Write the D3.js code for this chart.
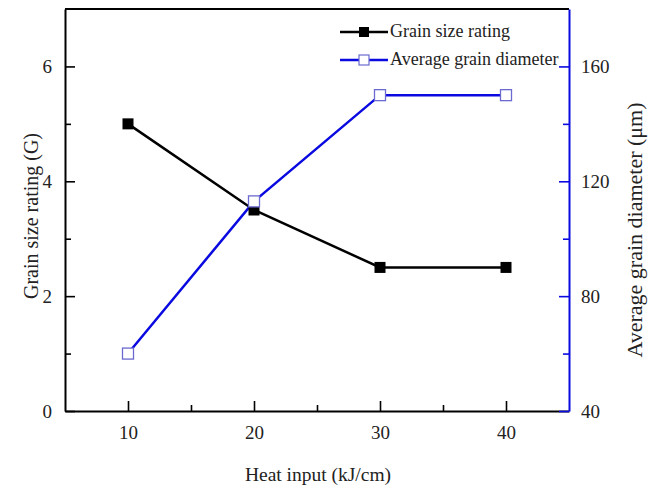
<!DOCTYPE html>
<meta charset="utf-8">
<style>
    body { margin: 0; background: white; }
    text { font-family: "Liberation Serif", "DejaVu Serif", serif; fill: #222; }
</style>
<div id="chart"></div>
<script src="https://d3js.org/d3.v7.min.js"></script>
<script>
    // data
    var heatInput = [10, 20, 30, 40];
    var grainRating = [5, 3.5, 2.5, 2.5];
    var grainDiameter = [60, 113, 150, 150];
    var xTicks = [10, 20, 30, 40];
    var leftTicks = [0, 2, 4, 6];
    var rightTicks = [40, 80, 120, 160];

    var margin = {top: 9, right: 86, bottom: 77, left: 65},
        width = 655 - margin.left - margin.right,
        height = 488 - margin.top - margin.bottom;

    var svg = d3.select("#chart").append("svg")
        .attr("width", 655)
        .attr("height", 488)
        .append("g")
        .attr("transform", "translate(" + margin.left + "," + margin.top + ")");

    var x = d3.scaleLinear().domain([5, 45]).range([0, width]);
    var yL = d3.scaleLinear().domain([0, 7]).range([height, 0]);
    var yR = d3.scaleLinear().domain([40, 180]).range([height, 0]);

    var blue = "#0a0ae0";

    // top frame
    svg.append("line")
        .attr("x1", 0).attr("x2", width)
        .attr("y1", 0).attr("y2", 0)
        .attr("stroke", "black").attr("stroke-width", 2);

    function styleAxis(g, color, majors, dir) {
        g.select(".domain").attr("stroke", color).attr("stroke-width", 2);
        g.selectAll(".tick line").attr("stroke", color).attr("stroke-width", 1.6)
            .attr(dir, function(d) { return (majors.indexOf(d) >= 0 ? 10 : 6) * (dir == "x2" && color == blue ? -1 : dir == "x2" ? 1 : -1); });
        g.selectAll(".tick text")
            .style("font-size", "19px");
    }

    // axes with inward ticks
    var xAxis = svg.append("g")
        .attr("transform", "translate(0," + height + ")")
        .call(d3.axisBottom(x).tickValues(d3.range(10, 41, 5))
            .tickFormat(function(d) { return xTicks.indexOf(d) >= 0 ? d : ""; })
            .tickSizeInner(-10).tickSizeOuter(0).tickPadding(15));
    styleAxis(xAxis, "black", xTicks, "y2");

    var leftAxis = svg.append("g")
        .call(d3.axisLeft(yL).tickValues(d3.range(0, 7, 1))
            .tickFormat(function(d) { return leftTicks.indexOf(d) >= 0 ? d : ""; })
            .tickSizeInner(-10).tickSizeOuter(0).tickPadding(13));
    styleAxis(leftAxis, "black", leftTicks, "x2");

    var rightAxis = svg.append("g")
        .attr("transform", "translate(" + width + ",0)")
        .call(d3.axisRight(yR).tickValues(d3.range(40, 180, 20))
            .tickFormat(function(d) { return rightTicks.indexOf(d) >= 0 ? d : ""; })
            .tickSizeInner(-10).tickSizeOuter(0).tickPadding(12));
    styleAxis(rightAxis, blue, rightTicks, "x2");

    // axis titles
    svg.append("text")
        .attr("x", 318 - margin.left).attr("y", 481 - margin.top)
        .attr("text-anchor", "middle")
        .style("font-size", "19.5px")
        .text("Heat input (kJ/cm)");

    svg.append("text")
        .attr("transform", "translate(" + (38 - margin.left) + "," + (216 - margin.top) + ") rotate(-90)")
        .attr("text-anchor", "middle")
        .style("font-size", "20px")
        .text("Grain size rating (G)");

    svg.append("text")
        .attr("transform", "translate(" + (642 - margin.left) + "," + (230 - margin.top) + ") rotate(-90)")
        .attr("text-anchor", "middle")
        .style("font-size", "22px")
        .text("Average grain diameter  (\u03bcm)");

    // series
    var rating = heatInput.map(function(d, i) { return {x: d, y: grainRating[i]}; });
    var diam = heatInput.map(function(d, i) { return {x: d, y: grainDiameter[i]}; });

    svg.append("path")
        .datum(rating)
        .attr("fill", "none").attr("stroke", "black").attr("stroke-width", 2.5)
        .attr("d", d3.line().x(function(d) { return x(d.x); }).y(function(d) { return yL(d.y); }));

    svg.append("path")
        .datum(diam)
        .attr("fill", "none").attr("stroke", blue).attr("stroke-width", 2.5)
        .attr("d", d3.line().x(function(d) { return x(d.x); }).y(function(d) { return yR(d.y); }));

    var ms = 11;
    svg.selectAll(".rmark").data(rating).enter().append("rect")
        .attr("x", function(d) { return x(d.x) - ms / 2; })
        .attr("y", function(d) { return yL(d.y) - ms / 2; })
        .attr("width", ms).attr("height", ms)
        .attr("fill", "black");

    svg.selectAll(".dmark").data(diam).enter().append("rect")
        .attr("x", function(d) { return x(d.x) - ms / 2; })
        .attr("y", function(d) { return yR(d.y) - ms / 2; })
        .attr("width", ms).attr("height", ms)
        .attr("fill", "white").attr("stroke", "#6a6ad0").attr("stroke-width", 1.3);

    // legend
    var legend = svg.append("g").attr("transform", "translate(" + (340 - margin.left) + "," + (32 - margin.top) + ")");
    var items = [
        {label: "Grain size rating", line: "black", fill: "black", stroke: "none"},
        {label: "Average grain diameter", line: blue, fill: "white", stroke: "#6a6ad0"}
    ];
    items.forEach(function(it, i) {
        var g = legend.append("g").attr("transform", "translate(0," + (i * 28) + ")");
        g.append("line").attr("x1", 0).attr("x2", 48).attr("y1", 0).attr("y2", 0)
            .attr("stroke", it.line).attr("stroke-width", 2.5);
        g.append("rect").attr("x", 24 - 5).attr("y", -5).attr("width", 10).attr("height", 10)
            .attr("fill", it.fill).attr("stroke", it.stroke).attr("stroke-width", 1.2);
        g.append("text").attr("x", 50).attr("y", 5)
            .style("font-size", "18px")
            .text(it.label);
    });
</script>
